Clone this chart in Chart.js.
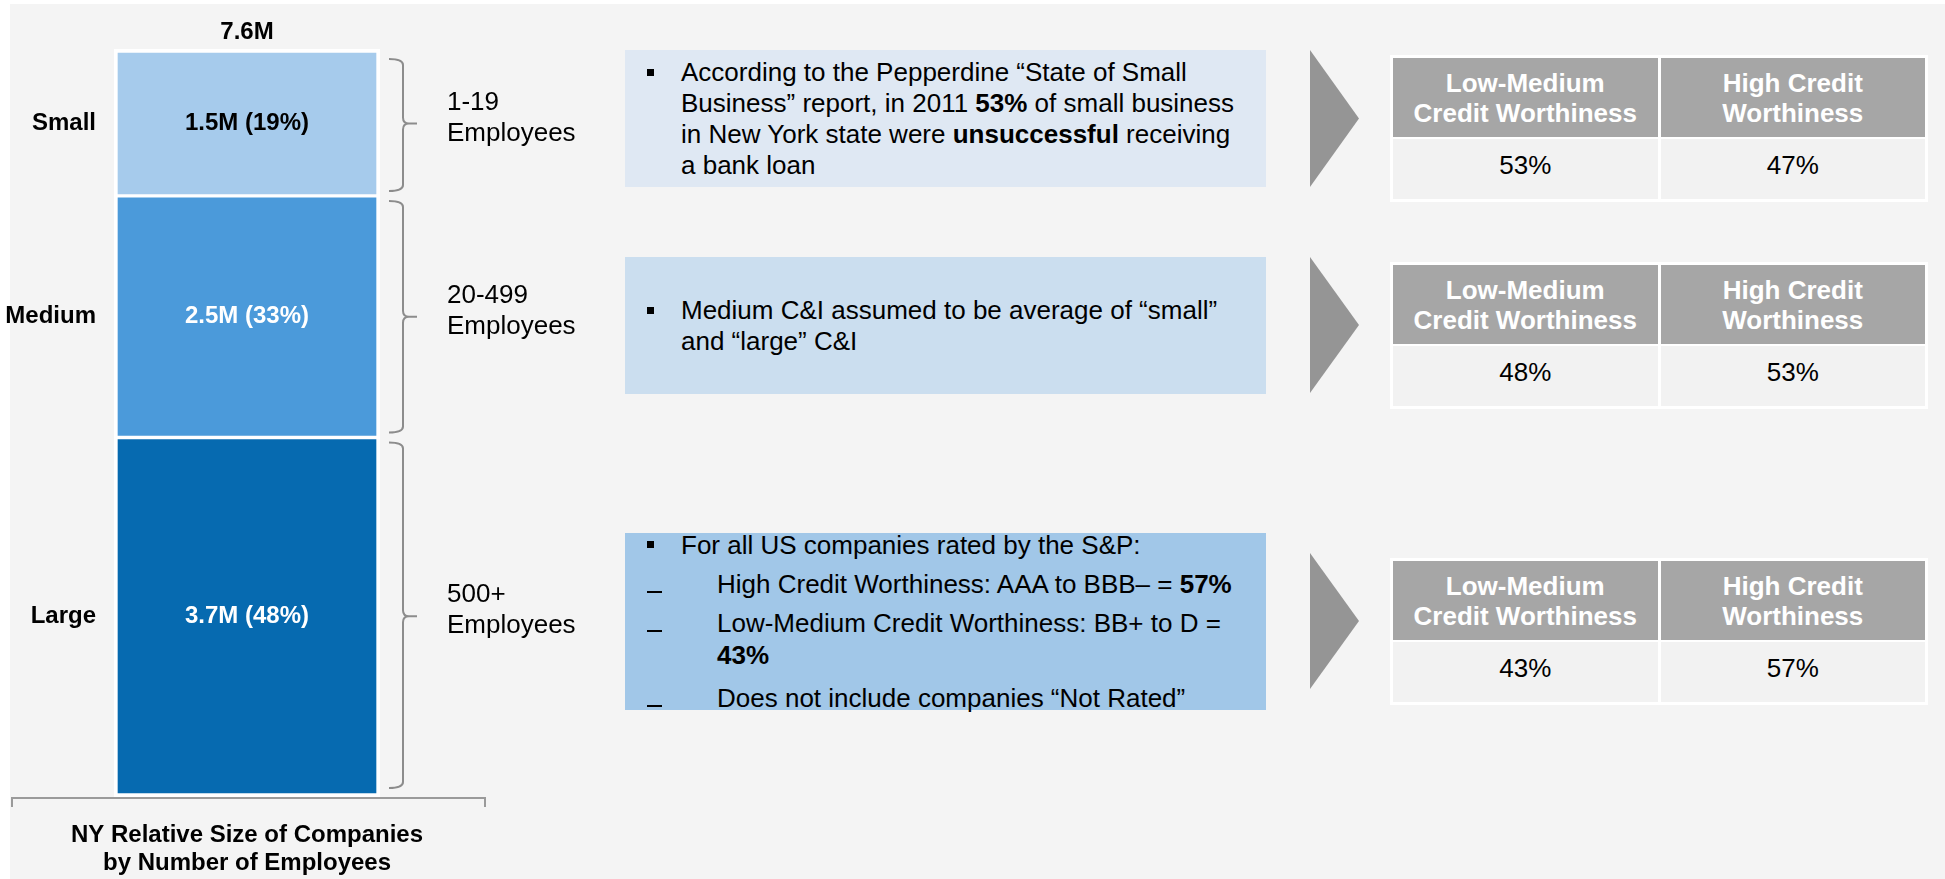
<!DOCTYPE html>
<html>
<head>
<meta charset="utf-8">
<script src="https://cdn.jsdelivr.net/npm/chart.js@4.4.1/dist/chart.umd.min.js"></script>
<style>
    html, body { margin: 0; padding: 0; background: #fff; }
    body { width: 1945px; height: 879px; position: relative; overflow: hidden;
           font-family: 'Liberation Sans', Arial, sans-serif; color: #000; }
    #bg { position: absolute; left: 10px; top: 4px; right: 0; bottom: 0; background: #f4f4f4; }
    #sizes { position: absolute; left: 0; top: 0; }
    .note { position: absolute; left: 625px; width: 641px; font-size: 26px; line-height: 31px;
            display: flex; flex-direction: column; justify-content: center; }
    .note p { margin: 0; position: relative; padding-left: 56px; white-space: nowrap; }
    .note p.bullet::before { content: ''; position: absolute; left: 22px; top: 12px; width: 7px; height: 7px; background: #000; }
    .note p.sub { padding-left: 92px; margin-top: 7px; line-height: 32px; }
    .note p.sub.last { margin-top: 11px; }
    .note p.sub::before { content: ''; position: absolute; left: 22px; top: 23px; width: 15px; height: 2px; background: #000; }
    .arrow { position: absolute; left: 1310px; width: 49px; background: #959595;
             clip-path: polygon(0 0, 100% 50%, 0 100%); }
    table.credit { position: absolute; left: 1390px; width: 538px; border-collapse: separate;
                   border-spacing: 3px 2px; background: #fff; padding: 1px 0; table-layout: fixed; }
    table.credit th { background: #a6a6a6; color: #fff; font-weight: bold; font-size: 26px; line-height: 30px;
                      height: 79px; padding: 0; text-align: center; }
    table.credit td { background: #f2f2f2; font-size: 26px; height: 60px; padding: 0 0 8px 0;
                      text-align: center; box-sizing: border-box; }
</style>
</head>
<body>
<div id="bg"></div>
<canvas id="sizes" width="600" height="879"></canvas>
<div id="notes"></div>
<script>
// NY companies by size (millions of employees)
const segments = ['Small', 'Medium', 'Large'];
const segmentValues = [1.5, 2.5, 3.7];
const segmentShares = [19, 33, 48];
const employeeRanges = ['1-19', '20-499', '500+'];
const totalLabel = '7.6M';
const chartTitle = ['NY Relative Size of Companies', 'by Number of Employees'];

// credit worthiness split per size group
const tableHeaders = ['Low-Medium<br>Credit Worthiness', 'High Credit<br>Worthiness'];
const lowMediumShare = [53, 48, 43];
const highShare = [47, 53, 57];

const segmentColors = ['#a6cbec', '#4b9ada', '#066ab0'];
const labelColors = ['#000', '#fff', '#fff'];
const FONT = "'Liberation Sans', Arial, sans-serif";

function brace(ctx, x0, x1, top, tip, bottom) {
    const xm = 403, r = 6;
    ctx.beginPath();
    ctx.moveTo(x0, top);
    ctx.quadraticCurveTo(xm, top, xm, top + r);
    ctx.lineTo(xm, tip - r);
    ctx.quadraticCurveTo(xm, tip, xm + r, tip);
    ctx.lineTo(x1, tip);
    ctx.moveTo(xm + r, tip);
    ctx.quadraticCurveTo(xm, tip, xm, tip + r);
    ctx.lineTo(xm, bottom - r);
    ctx.quadraticCurveTo(xm, bottom, x0, bottom);
    ctx.stroke();
}

const framePlugin = {
    id: 'frame',
    beforeDatasetsDraw(chart) {
        const a = chart.chartArea, ctx = chart.ctx;
        ctx.save();
        ctx.fillStyle = '#fff';
        ctx.fillRect(a.left - 2, a.top - 2, a.right - a.left + 4, a.bottom - a.top + 4);
        ctx.restore();
    },
    afterDatasetsDraw(chart) {
        const a = chart.chartArea, ctx = chart.ctx;
        const cx = (a.left + a.right) / 2;
        ctx.save();
        ctx.textBaseline = 'middle';

        ctx.font = 'bold 24px ' + FONT;
        ctx.textAlign = 'center';
        ctx.fillStyle = '#000';
        ctx.fillText(totalLabel, cx, a.top - 19);

        segments.forEach((name, i) => {
            const el = chart.getDatasetMeta(i).data[0];
            const top = Math.min(el.y, el.base), bottom = Math.max(el.y, el.base);
            const mid = (top + bottom) / 2;

            ctx.font = 'bold 24px ' + FONT;
            ctx.textAlign = 'center';
            ctx.fillStyle = labelColors[i];
            ctx.fillText(segmentValues[i] + 'M (' + segmentShares[i] + '%)', el.x, mid);

            ctx.textAlign = 'right';
            ctx.fillStyle = '#000';
            ctx.fillText(name, 96, mid);

            ctx.strokeStyle = '#8c8c8c';
            ctx.lineWidth = 2;
            const bTop = top + (i === 0 ? 8 : 5);
            const bBottom = bottom - (i === segments.length - 1 ? 7 : 5);
            brace(ctx, 389, 417, bTop, mid, bBottom);

            ctx.font = '26px ' + FONT;
            ctx.textAlign = 'left';
            ctx.fillStyle = '#000';
            ctx.fillText(employeeRanges[i], 447, mid - 21);
            ctx.fillText('Employees', 447, mid + 10);
        });

        // bottom bracket and title
        ctx.strokeStyle = '#9a9a9a';
        ctx.lineWidth = 2;
        ctx.beginPath();
        ctx.moveTo(12, 807);
        ctx.lineTo(12, 798);
        ctx.lineTo(485, 798);
        ctx.lineTo(485, 807);
        ctx.stroke();

        ctx.font = 'bold 24px ' + FONT;
        ctx.textAlign = 'center';
        ctx.fillStyle = '#000';
        ctx.fillText(chartTitle[0], cx, 835);
        ctx.fillText(chartTitle[1], cx, 863);
        ctx.restore();
    }
};

const sizesChart = new Chart(document.querySelector('#sizes'), {
    type: 'bar',
    data: {
        labels: [''],
        datasets: segments.map((name, i) => ({
            label: name,
            data: [segmentValues[i]],
            backgroundColor: segmentColors[i],
            borderColor: '#fff',
            borderWidth: 2,
            borderSkipped: false,
            barPercentage: 1,
            categoryPercentage: 1
        }))
    },
    options: {
        responsive: false,
        animation: false,
        layout: { padding: { left: 116, right: 222, top: 51, bottom: 84 } },
        scales: {
            x: { display: false, stacked: true },
            y: {
                display: false,
                stacked: true,
                reverse: true,
                min: 0,
                max: segmentValues.reduce((s, v) => s + v, 0)
            }
        },
        plugins: {
            legend: { display: false },
            tooltip: { enabled: false }
        }
    },
    plugins: [framePlugin]
});

// right side: notes, arrows and credit tables
const notes = [
    { top: 50, height: 137, bg: '#dfe8f3',
      html: '<p class="bullet">According to the Pepperdine “State of Small<br>Business” report, in 2011 <b>53%</b> of small business<br>in New York state were <b>unsuccessful</b> receiving<br>a bank loan</p>' },
    { top: 257, height: 137, bg: '#cbdeef',
      html: '<p class="bullet">Medium C&amp;I assumed to be average of “small”<br>and “large” C&amp;I</p>' },
    { top: 533, height: 177, bg: '#a1c7e8',
      html: '<p class="bullet" style="line-height:32px">For all US companies rated by the S&amp;P:</p>' +
            '<p class="sub">High Credit Worthiness: AAA to BBB– = <b>57%</b></p>' +
            '<p class="sub">Low-Medium Credit Worthiness: BB+ to D =<br><b>43%</b></p>' +
            '<p class="sub last">Does not include companies “Not Rated”</p>' }
];
const arrowTops = [50, 257, 553];
const arrowHeights = [137, 136, 136];
const tableTops = [55, 262, 558];

const holder = document.querySelector('#notes');
notes.forEach((n, i) => {
    const box = document.createElement('div');
    box.className = 'note';
    box.style.top = n.top + 'px';
    box.style.height = n.height + 'px';
    box.style.background = n.bg;
    box.innerHTML = n.html;
    holder.appendChild(box);

    const arrow = document.createElement('div');
    arrow.className = 'arrow';
    arrow.style.top = arrowTops[i] + 'px';
    arrow.style.height = arrowHeights[i] + 'px';
    holder.appendChild(arrow);

    const table = document.createElement('table');
    table.className = 'credit';
    table.style.top = tableTops[i] + 'px';
    table.innerHTML = '<tr><th>' + tableHeaders[0] + '</th><th>' + tableHeaders[1] + '</th></tr>' +
        '<tr><td>' + lowMediumShare[i] + '%</td><td>' + highShare[i] + '%</td></tr>';
    holder.appendChild(table);
});
</script>
</body>
</html>
